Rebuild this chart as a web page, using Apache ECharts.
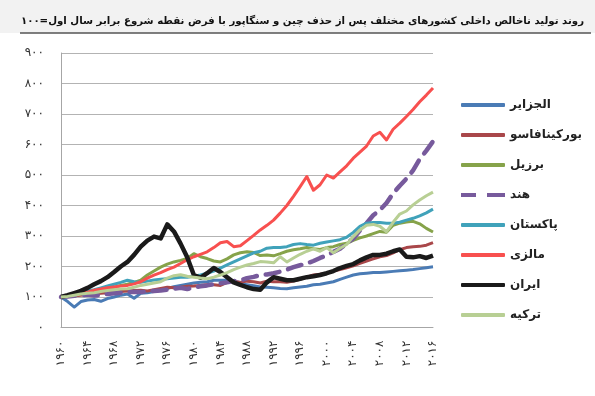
<!DOCTYPE html>
<html>
<head>
<meta charset="utf-8">
<script src="https://cdn.jsdelivr.net/npm/echarts@6/dist/echarts.min.js"></script>
<style>
html,body{margin:0;padding:0;background:#fff;}
#chart{width:595px;height:396px;}
</style>
</head>
<body>
<div id="chart" dir="rtl"></div>
<script>
const titleText = 'روند تولید ناخالص داخلی کشورهای مختلف پس از حذف چین و سنگاپور با فرض نقطه شروع برابر سال اول=۱۰۰';
const years = [1960,1961,1962,1963,1964,1965,1966,1967,1968,1969,1970,1971,1972,1973,1974,1975,1976,1977,1978,1979,1980,1981,1982,1983,1984,1985,1986,1987,1988,1989,1990,1991,1992,1993,1994,1995,1996,1997,1998,1999,2000,2001,2002,2003,2004,2005,2006,2007,2008,2009,2010,2011,2012,2013,2014,2015,2016];
const yTicks = [0,100,200,300,400,500,600,700,800,900];
const seriesNames = ['الجزایر','بورکینافاسو','برزیل','هند','پاکستان','مالزی','ایران','ترکیه'];

const algeria = [100,85,67,85,90,92,86,95,100,106,
  110,96,112,114,118,122,128,134,138,142,
  146,148,150,155,155,155,152,148,140,137,
  133,132,130,128,127,130,133,135,140,142,
  146,150,158,165,172,176,178,180,180,182,
  184,186,188,190,193,196,199];
const burkina = [100,102,104,106,108,110,112,114,116,118,
  120,121,122,120,124,128,132,130,132,135,
  136,138,140,140,138,148,152,148,152,150,
  146,152,150,150,148,152,158,165,172,175,
  178,185,190,196,202,210,218,225,232,236,
  245,255,262,265,266,270,278];
const brazil = [100,106,110,112,115,118,122,126,132,138,
  142,148,155,172,185,198,208,215,220,226,
  242,232,226,218,215,225,238,245,248,246,
  236,238,235,242,250,255,258,262,258,256,
  262,265,272,276,286,294,300,308,315,312,
  335,342,346,348,340,325,313];
const india = [100,102,104,106,108,105,107,110,112,114,
  116,117,116,118,120,121,124,127,130,126,
  132,135,138,142,145,148,152,154,162,166,
  172,174,178,183,190,198,204,210,218,228,
  236,248,258,275,292,318,342,368,385,408,
  440,465,488,515,552,580,610];
const pakistan = [100,104,110,116,120,124,130,136,142,148,
  155,150,148,152,156,158,160,162,165,165,
  168,172,178,185,195,205,215,225,235,245,
  250,260,262,262,265,272,275,272,270,276,
  280,284,288,296,312,332,342,344,344,342,
  342,345,352,358,366,376,388];
const malaysia = [100,104,108,112,116,122,126,130,133,136,
  138,143,150,162,172,180,190,198,210,222,
  232,240,248,262,278,282,265,268,285,302,
  320,335,352,375,400,430,462,495,450,468,
  500,490,510,530,555,575,595,628,640,615,
  650,670,692,715,740,762,785];
const iran = [100,106,113,120,130,142,152,165,182,200,
  215,238,265,285,298,292,338,315,275,230,
  172,163,178,195,182,165,148,140,132,126,
  124,148,165,160,155,155,160,165,168,172,
  178,185,195,202,208,220,230,238,238,242,
  250,256,232,230,234,228,236];
const turkey = [100,102,106,110,112,114,118,121,124,126,
  127,132,138,142,146,150,162,170,173,168,
  165,162,160,165,172,180,190,198,205,210,
  216,215,212,232,215,228,240,250,258,250,
  262,245,260,272,298,320,335,338,332,314,
  345,372,382,402,418,432,444];

const faDigits = '۰۱۲۳۴۵۶۷۸۹';
function toFa(v){ return String(v).replace(/[0-9]/g, d => faDigits[+d]); }

const dataSets = [algeria, burkina, brazil, india, pakistan, malaysia, iran, turkey];
const colors = ['#4a7bb5','#a9474a','#86a34a','#775a9c','#40a2ba','#f8504f','#1a1a1a','#b8cf94'];
const widths = [3,3,3,4.5,3,3,4.5,3];

const series = seriesNames.map((name, i) => ({
  name: name,
  type: 'line',
  data: dataSets[i],
  symbol: 'none',
  smooth: false,
  z: 2 + i,
  lineStyle: {
    color: colors[i],
    width: widths[i],
    type: i === 3 ? [14, 9] : 'solid',
    cap: i === 3 ? 'round' : 'butt',
    join: 'round'
  },
  itemStyle: { color: colors[i] }
}));

const legendData = seriesNames.map((name, i) => ({
  name: name,
  icon: i === 3 ? 'path://M0,0h15v4h-15z M26,0h18v4h-18z' : 'roundRect'
}));

const chart = echarts.init(document.getElementById('chart'), null, {renderer: 'canvas'});
chart.setOption({
  animation: false,
  backgroundColor: '#ffffff',
  title: {
    text: titleText,
    right: 6,
    top: 11,
    z: 10,
    textStyle: { fontFamily: 'DejaVu Sans', fontSize: 10.2, fontWeight: 'bold', color: '#111' }
  },
  graphic: [
    { type: 'rect', z: 0, shape: { x: 0, y: 0, width: 595, height: 33 }, style: { fill: '#f2f2f2' } },
    { type: 'line', z: 1, shape: { x1: 20, y1: 33, x2: 591, y2: 33 }, style: { stroke: '#555', lineWidth: 1.5 } }
  ],
  legend: {
    data: legendData,
    orient: 'vertical',
    left: 456,
    top: 93,
    itemWidth: 44,
    itemHeight: 4,
    itemGap: 16,
    textStyle: { fontFamily: 'DejaVu Sans', fontSize: 12, fontWeight: 'bold', color: '#222', lineHeight: 14 }
  },
  grid: { left: 61, right: 162, top: 53, bottom: 68.5, containLabel: false },
  xAxis: {
    type: 'category',
    data: years,
    boundaryGap: false,
    axisLine: { show: true, lineStyle: { color: '#a6a6a6', width: 1 } },
    axisTick: { show: false },
    splitLine: { show: false },
    axisLabel: {
      interval: 3,
      rotate: 90,
      margin: 13,
      formatter: v => toFa(v),
      fontFamily: 'DejaVu Sans',
      fontSize: 12,
      color: '#333'
    }
  },
  yAxis: {
    type: 'value',
    min: yTicks[0],
    max: yTicks[yTicks.length - 1],
    interval: 100,
    axisLine: { show: true, lineStyle: { color: '#a6a6a6', width: 1 } },
    axisTick: { show: false },
    splitLine: { show: true, lineStyle: { color: '#b3b3b3', width: 1 } },
    axisLabel: {
      margin: 17,
      formatter: v => toFa(v),
      fontFamily: 'DejaVu Sans',
      fontSize: 12,
      color: '#333'
    }
  },
  series: series
});
</script>
</body>
</html>
